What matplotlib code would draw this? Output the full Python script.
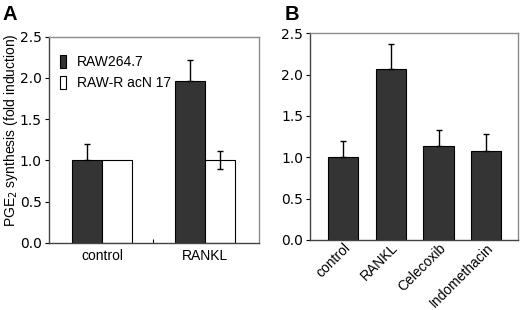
import matplotlib.pyplot as plt
import matplotlib.transforms as mtransforms
import numpy as np

# panel A
groups_a = ['control', 'RANKL']
raw264 = [1.0, 1.96]
raw264_err = [0.2, 0.25]
racn17 = [1.0, 1.0]
racn17_err = [0.0, 0.11]
legend_a = ['RAW264.7', 'RAW-R acN 17']

# panel B
groups_b = ['control', 'RANKL', 'Celecoxib', 'Indomethacin']
vals_b = [1.0, 2.07, 1.14, 1.07]
err_b = [0.2, 0.3, 0.19, 0.21]

DARK = '#343434'
LABEL_FONT = 'Liberation Sans'
plt.rcParams['font.family'] = 'DejaVu Sans'

fig = plt.figure(figsize=(5.2, 3.1), dpi=100)
ax1 = fig.add_axes([0.094, 0.217, 0.404, 0.665])
ax2 = fig.add_axes([0.596, 0.226, 0.4, 0.667])
ekw = dict(elinewidth=1, ecolor='black', capthick=1)


def style(ax):
    for s in ['top', 'right']:
        ax.spines[s].set_color('#8a8a8a')
    for s in ['left', 'bottom']:
        ax.spines[s].set_color('#444444')
    for s in ax.spines.values():
        s.set_linewidth(1.0)
    ax.set_ylim(0, 2.5)
    ax.set_yticks(np.arange(0, 2.51, 0.5))
    ax.set_yticklabels(['%.1f' % v for v in np.arange(0, 2.51, 0.5)], fontsize=10)
    ax.tick_params(axis='y', direction='out', length=3, width=0.8, pad=2)


def errs(ax, xs, ys, es, upper_only):
    for xi, yi, ei in zip(xs, ys, es):
        if ei <= 0:
            continue
        lo = 0 if upper_only else ei
        ax.errorbar(xi, yi, yerr=[[lo], [ei]], fmt='none', capsize=2, zorder=3, **ekw)


# A
x = np.arange(len(groups_a))
w = 0.29
ax1.bar(x - w / 2, raw264, w, color=DARK, edgecolor='black', linewidth=0.8,
        label=legend_a[0])
ax1.bar(x + w / 2, racn17, w, color='white', edgecolor='black', linewidth=0.8,
        label=legend_a[1])
errs(ax1, x - w / 2, raw264, raw264_err, True)
errs(ax1, x + w / 2, racn17, racn17_err, False)
style(ax1)
ax1.set_xlim(-0.515, 1.524)
ax1.set_xticks([0.5])
ax1.set_xticklabels([''])
ax1.tick_params(axis='x', direction='in', length=3, width=0.8)
for i, g in enumerate(groups_a):
    ax1.text(x[i], -0.03, g, ha='center', va='top', fontsize=10, family=LABEL_FONT,
             transform=ax1.get_xaxis_transform())
ax1.set_ylabel('PGE$_2$ synthesis (fold induction)', fontsize=10, family=LABEL_FONT)
ax1.yaxis.set_label_coords(-0.138, 0.544)
ax1.legend(loc='upper left', bbox_to_anchor=(-0.005, 0.97), frameon=False,
           prop=dict(family=LABEL_FONT, size=10),
           handlelength=0.4, handleheight=1.0, handletextpad=0.8, labelspacing=0.5)
ax1.text(-0.22, 1.081, 'A', transform=ax1.transAxes, fontsize=14.5, fontweight='bold',
         family=LABEL_FONT, ha='left', va='baseline')

# B
xb = np.arange(len(groups_b))
ax2.bar(xb, vals_b, 0.63, color=DARK, edgecolor='black', linewidth=0.8)
errs(ax2, xb, vals_b, err_b, True)
style(ax2)
ax2.set_xlim(-0.69, 3.66)
ax2.set_xticks(xb)
ax2.set_xticklabels(groups_b, rotation=45, ha='right', va='center', rotation_mode='anchor',
                    fontsize=10, family=LABEL_FONT)
ax2.tick_params(axis='x', length=0, pad=4)
shift = mtransforms.ScaledTranslation(5 / 100, 0, fig.dpi_scale_trans)
for lbl in ax2.get_xticklabels():
    lbl.set_transform(lbl.get_transform() + shift)
ax2.text(-0.12, 1.064, 'B', transform=ax2.transAxes, fontsize=14.5, fontweight='bold',
         family=LABEL_FONT, ha='left', va='baseline')

fig.savefig('out.png', dpi=100)
